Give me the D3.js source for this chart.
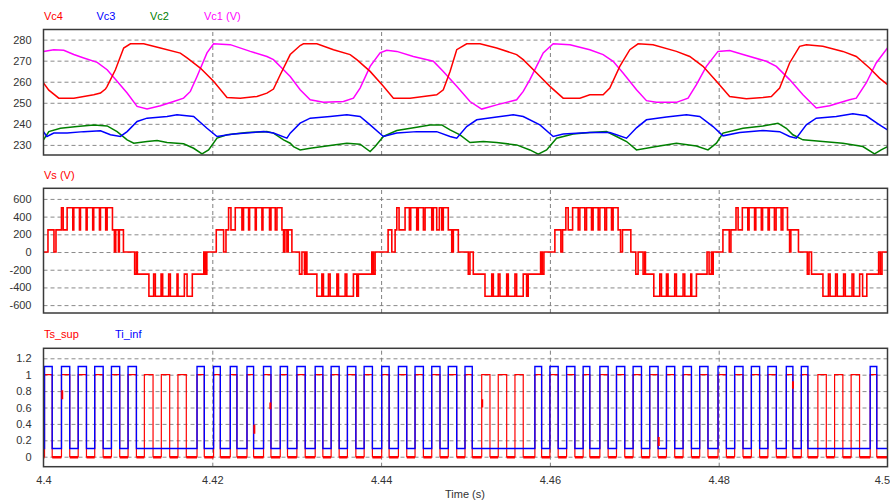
<!DOCTYPE html>
<html><head><meta charset="utf-8">
<script src="https://cdn.jsdelivr.net/npm/d3@7"></script>
<style>body{margin:0;background:#fff}svg{display:block}</style>
</head><body>
<svg id="c" width="890" height="501"></svg>
<script>
// ---------- DATA (time in ms after 4.4 s) ----------
const xTicks = [4.4, 4.42, 4.44, 4.46, 4.48, 4.5];
const yTicksCap = [230, 240, 250, 260, 270, 280];
const yTicksVs = [-600, -400, -200, 0, 200, 400, 600];
const yTicksSw = [0, 0.2, 0.4, 0.6, 0.8, 1, 1.2];

const vc4 = [[0,259.4],[0.63,256],[1.81,252.2],[3.59,252.2],[4.77,253],[5.95,253.8],[6.75,254.6],[7.34,256.5],[7.54,257.8],[8.52,265.7],[9.50,276],[10.30,278],[11.87,278],[13.85,276],[16.21,273.6],[17.01,271.3],[18.58,266.5],[20.15,260.2],[21.74,252.5],[23.31,252.2],[25.29,253],[26.47,254.6],[27.25,256.5],[28.05,263.3],[29.23,272.9],[30.41,277.2],[30.80,278],[32.39,278],[34.36,275.2],[36.33,272.9],[37.12,270.5],[38.70,264.9],[40.27,257.8],[41.46,252.2],[43.43,252.2],[45.01,253],[46.59,253.8],[47.37,256.2],[48.17,264.9],[48.96,275.2],[50.14,278],[51.72,278],[53.69,276],[56.06,272.9],[56.84,270.5],[58.43,264.1],[60.00,257.8],[61.57,252.2],[63.55,252.2],[64.73,253.8],[66.31,253.8],[67.10,257],[68.28,267.3],[69.47,275.2],[70.45,278],[72.22,277.6],[74.99,274.4],[76.57,272],[78.14,267.3],[79.73,260.2],[81.30,253],[83.28,251.9],[85.24,252.5],[86.24,253],[87.22,257],[88.40,268.9],[89.59,276.8],[90.38,277.6],[92.34,276.8],[94.71,274.4],[96.30,272],[97.87,266.5],[99.05,261.7],[100,258.6]];

const vc3 = [[0,236.3],[0.4,234],[1.22,235.6],[2.80,235.6],[4.77,236.3],[6.75,236.7],[7.93,234.8],[9.11,234],[9.91,236.3],[11.09,241.1],[12.27,242.7],[14.64,243.5],[15.82,244.3],[17.79,243.5],[19.37,237.9],[20.56,234],[22.52,235.2],[26.07,236.3],[27.25,235.6],[28.84,233.2],[29.23,235.6],[30.41,240.3],[31.60,242.7],[33.96,243.5],[35.94,244.3],[37.51,243.5],[38.70,239.5],[40.27,234],[41.86,235.6],[44.22,236.3],[46.59,236.3],[48.17,234],[48.96,233.2],[50.14,238.7],[51.33,241.9],[53.69,243.2],[55.66,244.3],[56.84,243.5],[58.82,239.5],[60.39,234],[61.57,235.2],[64.73,235.9],[67.10,235.9],[69.08,233.2],[70.26,238.1],[71.44,241.9],[73.81,243.2],[76.18,244.3],[77.75,243.5],[79.33,238.7],[80.51,234.3],[82.49,235.9],[85.24,236.8],[87.22,236.3],[88.40,234],[89.19,233.2],[90.38,239.5],[91.56,242.7],[93.93,243.5],[95.89,244.8],[97.48,243.8],[99.05,239.5],[100,237.1]];

const vc2 = [[0,232.4],[0.63,236.3],[2.01,237.9],[3.99,238.7],[5.95,239.5],[7.54,239],[8.72,236.3],[9.91,232.4],[10.69,230.8],[12.27,231.6],[13.46,232.1],[14.64,231.1],[16.60,230.5],[17.79,228.4],[18.78,225.7],[19.56,227.6],[20.56,233.2],[21.74,234.8],[24.11,235.9],[26.47,236.3],[27.25,235.6],[28.44,232.4],[29.23,230.8],[29.62,229.2],[30.41,227.6],[31.60,228.4],[33.96,229.7],[35.94,230.8],[37.51,230.3],[38.70,226.8],[39.29,229.2],[40.27,234],[41.86,236.8],[44.22,238.4],[45.80,239.5],[47.18,239.5],[48.17,237.1],[49.35,234.8],[50.53,231.1],[52.11,231.6],[53.69,231.1],[56.06,230],[57.63,227.6],[58.62,225.6],[59.61,227.6],[60.79,233.2],[62.76,235.2],[64.73,235.9],[66.71,236.3],[67.89,234],[69.08,231.6],[70.26,227.6],[72.62,229.2],[74.99,230.8],[77.36,229.5],[78.73,227.6],[79.73,230.8],[80.51,235.6],[82.88,237.9],[85.24,239],[87.02,240.3],[88.01,237.9],[88.79,234.8],[89.98,232.4],[92.34,231.6],[94.71,230.8],[97.08,229.2],[98.46,225.7],[99.25,227.6],[100,229.2]];

const vc1 = [[0,274.4],[1.22,275.2],[2.40,274.9],[3.59,272.9],[4.77,271.3],[6.36,269.2],[7.54,265.7],[8.72,260.2],[9.91,254.6],[11.09,248.3],[12.27,247],[13.85,248.6],[15.42,250.6],[16.60,252.2],[17.40,255.4],[18.19,262.5],[19.37,273.7],[20.15,278],[22.13,277.6],[24.50,274.4],[26.47,272],[27.25,270.5],[28.44,265.7],[29.23,262.5],[30.41,256.2],[31.60,251.4],[33.17,250.2],[35.54,250.6],[36.72,252.2],[37.51,257],[38.70,267.3],[39.88,273.7],[40.67,274.9],[41.86,274.4],[43.82,272],[46.19,269.7],[47.37,264.9],[48.96,257.8],[50.53,250.6],[51.92,247],[53.69,249],[56.06,251.4],[56.84,255.4],[57.63,261],[59.21,273.7],[60.39,278],[62.37,277.6],[64.73,275.2],[66.31,272.9],[67.49,269.7],[68.67,264.1],[70.26,256.2],[71.44,251],[72.62,250.2],[74.99,250.2],[76.37,252.2],[77.36,258.6],[78.54,267.3],[79.92,274.4],[81.30,274.8],[82.88,272.9],[85.64,269.7],[86.83,267.3],[88.40,261],[89.98,253.8],[91.56,247.5],[93.14,248.6],[95.50,251.4],[96.30,252.2],[97.48,259.4],[98.66,268.9],[100,276]];

// Vs : [time ms, level V], value holds until next entry
const vs = [
[0,0],[0.53,250],[1.24,0],[1.48,250],[2.13,500],[2.33,250],[2.80,500],[3.47,250],[3.59,500],[4.26,250],[4.38,500],[5.05,250],[5.17,500],[5.83,250],[5.95,500],[6.63,250],[6.75,500],[7.37,250],[7.54,500],[8.17,250],[8.40,0],[8.56,250],[8.88,0],[8.99,250],[9.47,0],[10.80,-250],[11.01,0],[11.12,-250],[12.49,-500],[13.05,-250],[13.25,-500],[13.93,-250],[14.12,-500],[14.83,-250],[15.03,-500],[15.82,-250],[15.94,-500],[16.69,-250],[17.01,-500],[17.63,-250],[18.99,0],[19.17,-250],[19.35,0],
[20.47,250],[21.34,0],[21.62,250],[21.93,500],[22.21,250],[22.72,500],[23.51,250],[23.70,500],[24.30,250],[24.42,500],[25.09,250],[25.21,500],[25.88,250],[26.00,500],[26.78,250],[26.95,500],[27.46,250],[27.66,500],[28.25,250],[28.44,0],[28.60,250],[28.84,0],[28.99,250],[29.43,0],[30.33,-250],[30.62,0],[30.92,-250],[31.07,0],[31.21,-250],[32.39,-500],[32.98,-250],[33.17,-500],[33.76,-250],[33.96,-500],[34.76,-250],[34.95,-500],[35.74,-250],[35.94,-500],[36.72,-250],[37.12,-500],[37.31,-250],[38.90,0],[39.09,-250],[39.29,0],
[40.83,250],[41.27,0],[41.66,250],[41.86,500],[42.13,250],[42.84,500],[43.35,250],[43.51,500],[44.22,250],[44.41,500],[45.01,250],[45.21,500],[46.00,250],[46.19,500],[46.59,250],[46.90,500],[47.18,250],[47.37,500],[47.96,250],[48.37,0],[48.56,250],[49.15,0],[50.33,-250],[50.53,0],[50.92,-250],[52.31,-500],[53.11,-250],[53.30,-500],[53.88,-250],[54.08,-500],[54.88,-250],[55.07,-500],[55.86,-250],[56.06,-500],[56.84,-250],[57.24,-500],[57.43,-250],[58.90,0],[59.09,-250],[59.29,0],
[60.59,250],[61.30,0],[61.50,250],[61.89,500],[62.17,250],[62.69,500],[63.35,250],[63.55,500],[64.14,250],[64.34,500],[64.93,250],[65.12,500],[65.72,250],[65.92,500],[66.51,250],[66.71,500],[67.30,250],[67.49,500],[68.08,250],[68.37,0],[68.60,250],[69.59,0],[70.18,-250],[70.45,0],[71.04,-250],[71.24,0],[71.32,-250],[72.31,-500],[73.02,-250],[73.22,-500],[73.81,-250],[74.00,-500],[74.79,-250],[74.99,-500],[75.78,-250],[75.98,-500],[76.69,-250],[76.80,-500],[77.36,-250],[78.62,0],[78.86,-250],[79.14,0],[79.25,-250],[79.35,0],
[80.50,250],[81.25,0],[81.45,250],[82.05,500],[82.30,250],[82.80,500],[83.45,250],[83.60,500],[84.25,250],[84.40,500],[85.05,250],[85.20,500],[85.85,250],[86.00,500],[86.60,250],[86.80,500],[87.40,250],[87.60,500],[88.15,250],[88.40,0],[88.55,250],[89.45,0],[90.50,-250],[90.70,0],[91.00,-250],[92.35,-500],[93.00,-250],[93.20,-500],[93.85,-250],[94.05,-500],[94.80,-250],[95.00,-500],[95.80,-250],[96.00,-500],[96.70,-250],[97.05,-500],[97.55,-250],[98.95,0],[99.15,-250],[99.35,0],[100,0]
];

// Ts_sup pulses (rise / fall, ms)
const tsRise = [0.12,2.13,4.11,6.07,8.05,10.02,11.95,13.96,15.93,18.19,20.15,22.13,24.11,26.07,28.05,30.02,32.19,34.08,36.01,37.99,40.07,42.05,44.02,46.00,47.96,49.94,51.92,53.88,55.86,58.22,60.00,61.98,63.94,65.92,67.89,69.86,71.83,73.81,75.78,77.75,79.92,81.89,83.87,85.83,88.01,89.79,91.75,93.73,95.69,97.95];
const tsFall = [1.03,3.11,5.09,7.07,9.03,11.01,12.98,14.95,16.92,19.05,20.95,22.92,24.89,26.95,28.91,31.01,33.10,35.03,37.01,38.97,40.95,43.04,45.01,46.98,48.96,50.80,52.90,54.88,56.84,59.02,60.98,62.96,64.73,66.90,68.87,70.85,72.82,74.79,76.77,78.73,80.91,82.88,84.85,86.83,88.79,90.57,92.75,94.71,96.69,98.73];
// Ti_inf pulses (rise / fall, ms)
const tiRise = [0.12,2.13,4.11,6.07,8.05,10.02,18.19,20.15,22.13,24.11,26.07,28.05,30.02,32.19,34.08,36.01,37.99,40.07,42.05,44.02,46.00,47.96,49.94,58.22,60.00,61.98,63.94,65.92,67.89,69.86,71.83,73.81,75.78,77.75,79.92,81.89,83.87,85.83,88.01,89.79,97.95];
const tiFall = [1.03,3.11,5.09,7.07,9.03,11.01,19.05,20.95,22.92,24.89,26.95,28.91,31.01,33.10,35.03,37.01,38.97,40.95,43.04,45.01,46.98,48.96,50.80,59.02,60.98,62.96,64.73,66.90,68.87,70.85,72.82,74.79,76.77,78.73,80.91,82.88,84.85,86.83,88.79,90.57,98.73];
// short Ts_sup edge glitches: [ms, from, to]
const tsGlitch = [[2.22,0.70,0.81],[24.98,0.28,0.39],[26.88,0.58,0.66],[51.98,0.60,0.70],[72.90,0.13,0.24],[88.80,0.83,0.92]];

// ---------- DRAWING ----------
const FONT = '"Liberation Sans", Arial, Helvetica, sans-serif';
const RED = '#ff0000', BLUE = '#0000ff', GREEN = '#008000', MAG = '#ff00ff';
const svg = d3.select('#c');
const x = d3.scaleLinear().domain([4.4, 4.5]).range([43.5, 887.5]);
const T = ms => 4.4 + ms / 1000;

const panels = [
  {top: 29.5, bottom: 155, domain: [225.2, 284.8], ticks: yTicksCap, fmt: d => d},
  {top: 188.3, bottom: 313, domain: [-689, 720], ticks: yTicksVs, fmt: d => d},
  {top: 348.3, bottom: 466.7, domain: [-0.122, 1.322], ticks: yTicksSw, fmt: d => d}
];

panels.forEach((p, i) => {
  p.y = d3.scaleLinear().domain(p.domain).range([p.bottom, p.top]);
  const g = svg.append('g');
  p.g = g;
  const hg = g.append('g').attr('transform', `translate(${x.range()[0]},0)`)
    .call(d3.axisLeft(p.y).tickValues(p.ticks).tickSize(-(x.range()[1] - x.range()[0])).tickFormat(''));
  hg.select('.domain').remove();
  hg.selectAll('line').attr('stroke', '#8a8a8a').attr('stroke-dasharray', '4,3');
  const vg = g.append('g').attr('transform', `translate(0,${p.bottom})`)
    .call(d3.axisBottom(x).tickValues(xTicks.slice(1, -1)).tickSize(-(p.bottom - p.top)).tickFormat(''));
  vg.select('.domain').remove();
  vg.selectAll('line').attr('stroke', '#808080').attr('stroke-dasharray', '4,3');
  const yl = g.append('g').attr('transform', `translate(${x.range()[0]},0)`)
    .call(d3.axisLeft(p.y).tickValues(p.ticks).tickSize(0).tickPadding(12).tickFormat(p.fmt));
  yl.select('.domain').remove();
  yl.selectAll('text').attr('font-family', FONT).attr('font-size', 11).attr('fill', '#333');
  svg.append('clipPath').attr('id', 'clip' + i).append('rect')
    .attr('x', x.range()[0]).attr('y', p.top).attr('width', x.range()[1] - x.range()[0]).attr('height', p.bottom - p.top);
  p.plot = g.append('g').attr('clip-path', `url(#clip${i})`);
});

// Panel 1
{
  const p = panels[0];
  const line = d3.line().x(d => x(T(d[0]))).y(d => p.y(d[1]));
  [[vc2, GREEN], [vc3, BLUE], [vc1, MAG], [vc4, RED]].forEach(([d, c]) => {
    p.plot.append('path').attr('d', line(d)).attr('fill', 'none').attr('stroke', c).attr('stroke-width', 1.5);
  });
}
// Panel 2
{
  const p = panels[1];
  const line = d3.line().curve(d3.curveStepAfter).x(d => x(T(d[0]))).y(d => p.y(d[1]));
  p.plot.append('path').attr('d', line(vs)).attr('fill', 'none').attr('stroke', RED).attr('stroke-width', 1.6);
}
// Panel 3
{
  const p = panels[2];
  const line = d3.line().x(d => x(T(d[0]))).y(d => p.y(d[1]));
  function pulses(r, f, lo, hi) {
    const pts = [[0, lo]];
    r.forEach((t, k) => { pts.push([t, lo], [t, hi], [f[k], hi], [f[k], lo]); });
    pts.push([100, lo]);
    return pts;
  }
  p.plot.append('path').attr('d', line(pulses(tsRise, tsFall, 0, 1))).attr('fill', 'none').attr('stroke', RED).attr('stroke-width', 1.2);
  const lows = [[0, tsRise[0]]];
  tsFall.forEach((f, k) => lows.push([f, k + 1 < tsRise.length ? tsRise[k + 1] : 100]));
  p.plot.selectAll('.low').data(lows).join('line')
    .attr('x1', d => x(T(d[0]))).attr('x2', d => x(T(d[1])))
    .attr('y1', p.y(0) + 0.6).attr('y2', p.y(0) + 0.6)
    .attr('stroke', RED).attr('stroke-width', 2.4);
  p.plot.append('path').attr('d', line(pulses(tiRise, tiFall, 0.1, 1.1))).attr('fill', 'none').attr('stroke', BLUE).attr('stroke-width', 1.4);
  p.plot.selectAll('.gl').data(tsGlitch).join('line')
    .attr('x1', d => x(T(d[0]))).attr('x2', d => x(T(d[0])))
    .attr('y1', d => p.y(d[1])).attr('y2', d => p.y(d[2]))
    .attr('stroke', RED).attr('stroke-width', 2);
  const xl = svg.append('g').attr('transform', `translate(0,${p.bottom})`)
    .call(d3.axisBottom(x).tickValues(xTicks).tickSize(0).tickPadding(10).tickFormat(d => String(+d.toFixed(2))));
  xl.select('.domain').remove();
  xl.selectAll('text').attr('font-family', FONT).attr('font-size', 11).attr('fill', '#333');
  xl.selectAll('.tick').filter(d => d === 4.5).select('text').attr('text-anchor', 'end').attr('x', 889.5 - x(4.5));
}

// frames
panels.forEach(p => {
  svg.append('rect').attr('x', x.range()[0]).attr('y', p.top)
    .attr('width', x.range()[1] - x.range()[0]).attr('height', p.bottom - p.top)
    .attr('fill', 'none').attr('stroke', '#3a3a3a').attr('stroke-width', 1.5);
});

// legends
function legend(items, yb) {
  items.forEach(([txt, c, xx]) => {
    svg.append('text').attr('x', xx).attr('y', yb).text(txt)
      .attr('font-family', FONT).attr('font-size', 11).attr('fill', c);
  });
}
legend([['Vc4', RED, 44], ['Vc3', BLUE, 96.5], ['Vc2', GREEN, 150], ['Vc1 (V)', MAG, 204]], 20);
legend([['Vs (V)', RED, 44]], 179);
legend([['Ts_sup', RED, 44], ['Ti_inf', BLUE, 115]], 338);
svg.append('text').attr('x', 465).attr('y', 498).attr('text-anchor', 'middle').text('Time (s)')
  .attr('font-family', FONT).attr('font-size', 11).attr('fill', '#333');
</script>
</body></html>
